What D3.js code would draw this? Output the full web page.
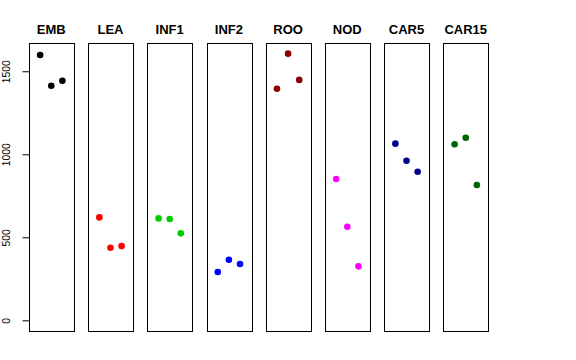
<!DOCTYPE html>
<html><head><meta charset="utf-8">
<script src="https://cdn.jsdelivr.net/npm/d3@7"></script>
<style>body{margin:0;background:#fff}svg{display:block}</style>
</head><body>
<script>
const categories = ["EMB","LEA","INF1","INF2","ROO","NOD","CAR5","CAR15"];
const colors = ["#000000","#FF0000","#00CD00","#0000FF","#8B0000","#FF00FF","#00008B","#006400"];
const values = [
  [1598, 1413, 1443],
  [620, 437, 447],
  [614, 610, 524],
  [291, 365, 339],
  [1395, 1606, 1448],
  [851, 564, 325],
  [1064, 961, 895],
  [1060, 1100, 815]
];
const yTicks = [0, 500, 1000, 1500];

const W = 576, H = 360;
const svg = d3.select("body").append("svg").attr("width", W).attr("height", H);

const panel = d3.scaleBand().domain(categories).range([29, 488]).paddingInner(0.248).paddingOuter(0);
const ymax = d3.max(values.flat());
const ext = ymax * 0.04;
const y = d3.scaleLinear().domain([-ext, ymax + ext]).range([331, 43]);

categories.forEach((cat, i) => {
  const x0 = panel(cat), bw = panel.bandwidth();
  const x = d3.scaleLinear().domain([0, 4]).range([x0, x0 + bw]);
  const g = svg.append("g");
  g.append("rect").attr("x", Math.round(x0) + 0.5).attr("y", 43.5)
    .attr("width", Math.round(bw)).attr("height", 288)
    .attr("fill", "none").attr("stroke", "#000").attr("stroke-width", 1);
  g.selectAll("circle").data(values[i]).join("circle")
    .attr("cx", (d, j) => x(j + 1)).attr("cy", d => y(d)).attr("r", 3.3)
    .attr("fill", colors[i]);
  svg.append("text").attr("x", x0 + bw / 2).attr("y", 33.7)
    .attr("text-anchor", "middle").attr("font-family", "Liberation Sans, Arial, sans-serif")
    .attr("font-weight", "bold").attr("font-size", "13px").text(cat);
});

const axis = d3.axisLeft(y).tickValues(yTicks).tickSize(7).tickPadding(0).tickFormat(d3.format("d"));
const ag = svg.append("g").attr("transform", "translate(29.5,0)").call(axis);
ag.select(".domain").remove();
ag.selectAll(".tick line").attr("stroke", "#000");
ag.selectAll(".tick text")
  .attr("font-family", "Liberation Sans, Arial, sans-serif").attr("font-size", "10.4px")
  .attr("fill", "#000")
  .attr("x", null).attr("dy", null)
  .attr("text-anchor", "middle")
  .attr("transform", "translate(-20,0) rotate(-90)")
  .attr("y", 0);
</script>
</body></html>
